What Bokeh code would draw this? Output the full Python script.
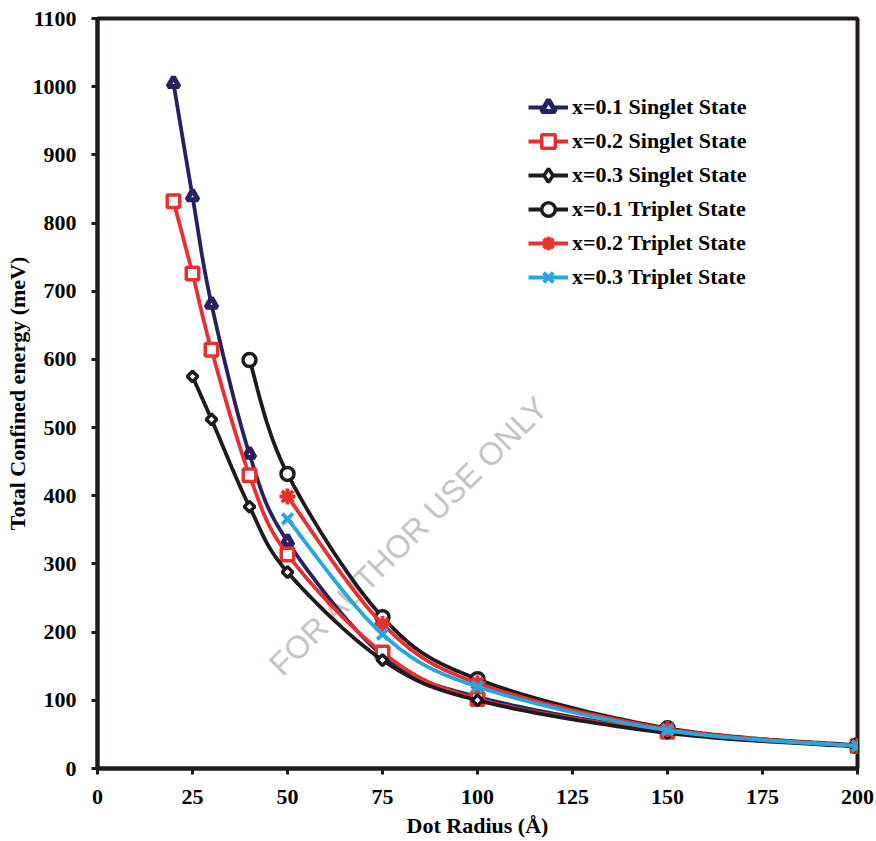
import numpy as np
from bokeh.plotting import figure
from bokeh.models import Range1d, FixedTicker, Label, Legend, LegendItem
from bokeh.embed import file_html
from bokeh.resources import INLINE

# ---------------- data ----------------
r_s01 = [20, 25, 30, 40, 50, 75, 100, 150, 200]
e_s01 = [1005, 839, 681, 461, 333, 166, 105, 54, 33]

r_s02 = [20, 25, 30, 40, 50, 75, 100, 150, 200]
e_s02 = [832, 726, 614, 430, 314, 170, 102, 54, 33]

r_s03 = [25, 30, 40, 50, 75, 100, 150, 200]
e_s03 = [575, 512, 384, 288, 159, 100, 52, 32]

r_t01 = [40, 50, 75, 100, 150, 200]
e_t01 = [599, 432, 222, 131, 59, 34]

r_t02 = [50, 75, 100, 150, 200]
e_t02 = [399, 212, 125, 58, 33]

r_t03 = [50, 75, 100, 150, 200]
e_t03 = [366, 197, 120, 56, 33]

labels = ["x=0.1 Singlet State", "x=0.2 Singlet State", "x=0.3 Singlet State",
          "x=0.1 Triplet State", "x=0.2 Triplet State", "x=0.3 Triplet State"]
x_ticks = [0, 25, 50, 75, 100, 125, 150, 175, 200]
y_ticks = [0, 100, 200, 300, 400, 500, 600, 700, 800, 900, 1000, 1100]

NAVY = "#262262"
RED = "#E8312F"
BLACK = "#1F1A1C"
BLUE = "#27A6DE"


def smooth(xs, ys, n=24):
    """Smoothed (Catmull-Rom style Bezier) path through the data points."""
    P = np.column_stack([np.asarray(xs, float), np.asarray(ys, float)])
    out = [P[0]]
    t = np.linspace(0, 1, n)[1:, None]
    for i in range(len(P) - 1):
        p0 = P[i - 1] if i > 0 else P[i]
        p1, p2 = P[i], P[i + 1]
        p3 = P[i + 2] if i + 2 < len(P) else P[i + 1]
        c1 = p1 + (p2 - p0) / 6.0
        c2 = p2 - (p3 - p1) / 6.0
        seg = ((1 - t) ** 3) * p1 + 3 * ((1 - t) ** 2) * t * c1 + 3 * (1 - t) * t ** 2 * c2 + t ** 3 * p2
        out.extend(seg)
    out = np.array(out)
    return out[:, 0], out[:, 1]


p = figure(width=876, height=841, output_backend="svg", toolbar_location=None,
           x_range=Range1d(0, 200), y_range=Range1d(0, 1100),
           min_border_left=97, min_border_right=19, min_border_top=18, min_border_bottom=73)

p.xgrid.visible = False
p.ygrid.visible = False
p.outline_line_color = BLACK
p.outline_line_width = 4
p.background_fill_color = "white"

FONT = "Liberation Serif"

for ax in (p.xaxis[0], p.yaxis[0]):
    ax.axis_line_width = 4
    ax.axis_line_color = BLACK
    ax.major_tick_line_width = 3
    ax.major_tick_line_color = BLACK
    ax.major_tick_out = 6
    ax.major_tick_in = 0
    ax.minor_tick_line_color = None
    ax.major_label_text_font = FONT
    ax.major_label_text_font_style = "bold"
    ax.major_label_text_font_size = "22px"
    ax.major_label_text_color = "black"
    ax.axis_label_text_font = FONT
    ax.axis_label_text_font_style = "bold"
    ax.axis_label_text_font_size = "22px"
    ax.axis_label_text_color = "black"

p.xaxis.ticker = FixedTicker(ticks=x_ticks)
p.yaxis.ticker = FixedTicker(ticks=y_ticks)
p.xaxis.axis_label = "Dot Radius (Å)"
p.yaxis.axis_label = "Total Confined energy (meV)"
p.xaxis.major_label_standoff = 15
p.yaxis.major_label_standoff = 15
p.xaxis.axis_label_standoff = 6
p.yaxis.axis_label_standoff = 0

# watermark
p.add_layout(Label(x=82, y=342, text="FOR AUTHOR USE ONLY", angle=45, angle_units="deg",
                   text_align="center", text_baseline="middle", text_font="Liberation Sans",
                   text_font_size="32px", text_color="#c4c4c4", level="underlay"))

series = [
    (r_s01, e_s01, NAVY, "triangle", 11, 5, 0),
    (r_s02, e_s02, RED, "square", 12.5, 3.5, 0),
    (r_s03, e_s03, BLACK, "square", 7.5, 3.5, np.pi / 4),
    (r_t01, e_t01, BLACK, "circle", 13, 3.5, 0),
    (r_t02, e_t02, RED, "asterisk", 16, 4, 0),
    (r_t03, e_t03, BLUE, "x", 15, 4, 0),
]

items = []
for (xs, ys, col, mk, sz, mlw, ang), lab in zip(series, labels):
    sx, sy = smooth(xs, ys)
    lr = p.line(sx, sy, line_color=col, line_width=3.8)
    if ang:
        # small diamond hidden beneath the rotated square; it supplies the legend symbol
        leg_r = p.scatter(xs, ys, marker="diamond", size=1, line_color=col, line_width=3.5,
                          fill_color="white")
    mr = p.scatter(xs, ys, marker=mk, size=sz, angle=ang, line_color=col, line_width=mlw,
                   fill_color="white")
    items.append(LegendItem(label=lab, renderers=[lr, leg_r if ang else mr]))

legend = Legend(items=items, location=(431, 474), border_line_color=None,
                background_fill_alpha=0, padding=0, margin=0, spacing=0,
                glyph_width=40, glyph_height=34, label_height=34, label_standoff=4,
                label_text_font=FONT, label_text_font_style="bold",
                label_text_font_size="22px", label_text_color="black")
p.add_layout(legend, "center")

open("out.html", "w").write(file_html(p, INLINE))
